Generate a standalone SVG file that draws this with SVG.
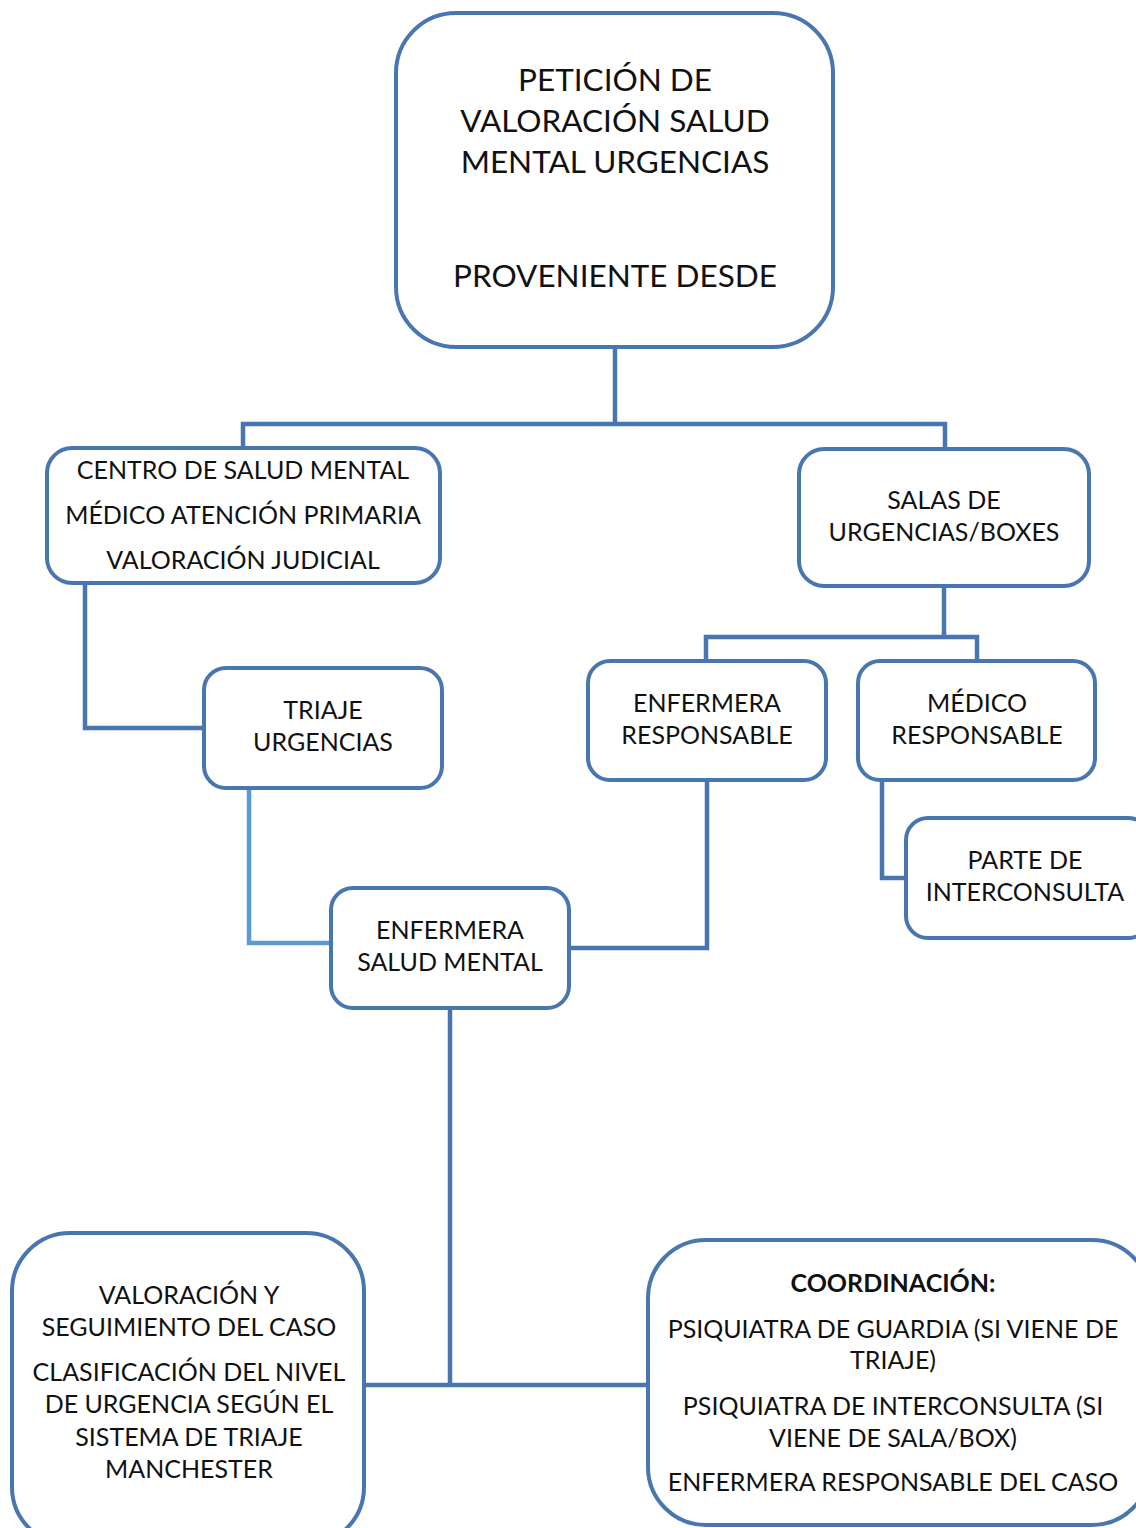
<svg xmlns="http://www.w3.org/2000/svg" width="1136" height="1528" viewBox="0 0 1136 1528">
<style>
.box{fill:#fff;stroke:#4a76b0;stroke-width:4}
.ln{fill:none;stroke:#4a76b0;stroke-width:4.5}
.lt{fill:none;stroke:#5b9bd5;stroke-width:4.5}
text{font-family:Lato,"Open Sans","Liberation Sans",sans-serif;fill:#111;text-anchor:middle;dominant-baseline:central}
.t{font-size:31.5px}
.s{font-size:25px}
.b{font-weight:bold}
</style>
<rect width="1136" height="1528" fill="#fff"/>
<g id="connectors">
<polyline class="ln" points="615,347 615,424"/>
<polyline class="ln" points="243,448 243,424 945,424 945,448"/>
<polyline class="ln" points="85,583 85,728 204,728"/>
<polyline class="lt" points="249,788 249,943 331,943"/>
<polyline class="ln" points="944,586 944,637"/>
<polyline class="ln" points="706,661 706,637 977,637 977,661"/>
<polyline class="ln" points="707,780 707,948 569,948"/>
<polyline class="ln" points="882,780 882,878 906,878"/>
<polyline class="ln" points="450,1008 450,1385"/>
<polyline class="ln" points="364,1385 648,1385"/>
</g>
<g id="peticion">
<rect class="box" x="396" y="13" width="437" height="334" rx="60"/>
<text class="t" x="615" y="79">PETICIÓN DE</text>
<text class="t" x="615" y="120">VALORACIÓN SALUD</text>
<text class="t" x="615" y="161">MENTAL URGENCIAS</text>
<text class="t" x="615" y="275">PROVENIENTE DESDE</text>
</g>
<g id="centro">
<rect class="box" x="47" y="448" width="393" height="135" rx="25"/>
<text class="s" x="243" y="469">CENTRO DE SALUD MENTAL</text>
<text class="s" x="243" y="514">MÉDICO ATENCIÓN PRIMARIA</text>
<text class="s" x="243" y="559">VALORACIÓN JUDICIAL</text>
</g>
<g id="salas">
<rect class="box" x="799" y="449" width="290" height="137" rx="25"/>
<text class="s" x="944" y="499">SALAS DE</text>
<text class="s" x="944" y="531">URGENCIAS/BOXES</text>
</g>
<g id="triaje">
<rect class="box" x="204" y="668" width="238" height="120" rx="22"/>
<text class="s" x="323" y="709">TRIAJE</text>
<text class="s" x="323" y="741">URGENCIAS</text>
</g>
<g id="enf-resp">
<rect class="box" x="588" y="661" width="238" height="119" rx="22"/>
<text class="s" x="707" y="702">ENFERMERA</text>
<text class="s" x="707" y="734">RESPONSABLE</text>
</g>
<g id="med-resp">
<rect class="box" x="858" y="661" width="237" height="119" rx="22"/>
<text class="s" x="977" y="702">MÉDICO</text>
<text class="s" x="977" y="734">RESPONSABLE</text>
</g>
<g id="parte">
<rect class="box" x="906" y="818" width="244" height="120" rx="22"/>
<text class="s" x="1025" y="859">PARTE DE</text>
<text class="s" x="1025" y="891">INTERCONSULTA</text>
</g>
<g id="enf-sm">
<rect class="box" x="331" y="888" width="238" height="120" rx="22"/>
<text class="s" x="450" y="929">ENFERMERA</text>
<text class="s" x="450" y="961">SALUD MENTAL</text>
</g>
<g id="valoracion">
<rect class="box" x="12" y="1233" width="352" height="312" rx="58"/>
<text class="s" x="189" y="1294">VALORACIÓN Y</text>
<text class="s" x="189" y="1326">SEGUIMIENTO DEL CASO</text>
<text class="s" x="189" y="1371">CLASIFICACIÓN DEL NIVEL</text>
<text class="s" x="189" y="1403">DE URGENCIA SEGÚN EL</text>
<text class="s" x="189" y="1436">SISTEMA DE TRIAJE</text>
<text class="s" x="189" y="1468">MANCHESTER</text>
</g>
<g id="coordinacion">
<rect class="box" x="648" y="1240" width="502" height="285" rx="58"/>
<text class="s b" x="893" y="1282">COORDINACIÓN:</text>
<text class="s" x="893" y="1328">PSIQUIATRA DE GUARDIA (SI VIENE DE</text>
<text class="s" x="893" y="1359">TRIAJE)</text>
<text class="s" x="893" y="1405">PSIQUIATRA DE INTERCONSULTA (SI</text>
<text class="s" x="893" y="1437">VIENE DE SALA/BOX)</text>
<text class="s" x="893" y="1481">ENFERMERA RESPONSABLE DEL CASO</text>
</g>
</svg>
